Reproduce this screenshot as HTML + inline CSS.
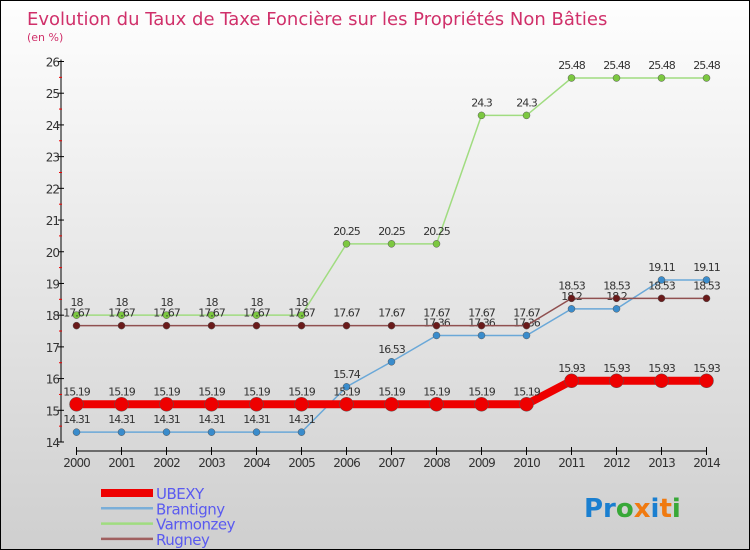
<!DOCTYPE html>
<html><head><meta charset="utf-8"><style>
body{margin:0;}
#wrap{position:relative;width:750px;height:550px;overflow:hidden;background:linear-gradient(#fefefe,#cfcfcf);box-sizing:border-box;border:1px solid #000;font-family:"DejaVu Sans","Liberation Sans",sans-serif;}
svg text{font-family:"DejaVu Sans","Liberation Sans",sans-serif;}
</style></head><body>
<div id="wrap">
<svg id="chart" width="750" height="550">
<text x="26" y="24" font-size="18" fill="#d0306a">Evolution du Taux de Taxe Foncière sur les Propriétés Non Bâties</text>
<text x="26" y="40" font-size="11" fill="#d0306a">(en %)</text>
<text x="583" y="516" font-size="26" font-weight="bold"><tspan fill="#1a7fd0">Pr</tspan><tspan fill="#38a838">o</tspan><tspan fill="#f07a10">x</tspan><tspan fill="#1a7fd0">i</tspan><tspan fill="#f07a10">t</tspan><tspan fill="#38a838">i</tspan></text>
</svg>
</div>
<script>
const years=[2000,2001,2002,2003,2004,2005,2006,2007,2008,2009,2010,2011,2012,2013,2014];
const ubexy=[15.19,15.19,15.19,15.19,15.19,15.19,15.19,15.19,15.19,15.19,15.19,15.93,15.93,15.93,15.93];
const brantigny=[14.31,14.31,14.31,14.31,14.31,14.31,15.74,16.53,17.36,17.36,17.36,18.2,18.2,19.11,19.11];
const varmonzey=[18,18,18,18,18,18,20.25,20.25,20.25,24.3,24.3,25.48,25.48,25.48,25.48];
const rugney=[17.67,17.67,17.67,17.67,17.67,17.67,17.67,17.67,17.67,17.67,17.67,18.53,18.53,18.53,18.53];
const yTicks=[14,15,16,17,18,19,20,21,22,23,24,25,26];
const svg=document.getElementById('chart');
const NS='http://www.w3.org/2000/svg';
const x0=75.5,dx=45,yTop=60.5,yBot=441,yMin=14,yMax=26;
const X=i=>x0+i*dx;
const Y=v=>yBot-(v-yMin)*(yBot-yTop)/(yMax-yMin);
function mk(t,a){const e=document.createElementNS(NS,t);for(const k in a)e.setAttribute(k,a[k]);svg.appendChild(e);return e;}
// axes
let ax=mk('line',{x1:60,y1:yTop-2,x2:60,y2:yBot,stroke:'#000'});


let xa=mk('line',{x1:X(0),y1:450,x2:X(14),y2:450,stroke:'#000'});


yTicks.forEach(v=>{
 let t=mk('line',{x1:57,y1:Y(v),x2:63,y2:Y(v),stroke:'#000'});
 
 
 if(v<yMax){let h=mk('line',{x1:58,y1:Y(v+0.5),x2:61,y2:Y(v+0.5),stroke:'#e00'});
 
 }
 let l=mk('text',{x:58,y:Y(v)+5,'font-size':12,'text-anchor':'end',fill:'#333','letter-spacing':'-1'});
 l.textContent=v;
 
 
});
years.forEach((yr,i)=>{
 let t=mk('line',{x1:X(i),y1:446,x2:X(i),y2:454,stroke:'#000'});
 
 
 let l=mk('text',{x:X(i),y:466,'font-size':12,'text-anchor':'middle',fill:'#333','letter-spacing':'-1'});
 l.textContent=yr;
 
 
});
function series(vals,color,w,r,name,dot){
 let p=mk('polyline',{points:vals.map((v,i)=>X(i)+','+Y(v)).join(' '),fill:'none',stroke:color,'stroke-width':w});
 
 
 vals.forEach((v,i)=>{
  let c=mk('circle',{cx:X(i),cy:Y(v),r:r,fill:dot,stroke:'#555','stroke-width':0.5});
  
  
  let t=mk('text',{x:X(i),y:Y(v)-9,'font-size':11,'text-anchor':'middle',fill:'#333','letter-spacing':'-1'});
  t.textContent=v;
  
  
 });
}
series(brantigny,'#6aa8d8',1.5,3.5,'brantigny','#3a8ccc');
series(varmonzey,'#a0dc80',1.5,3.5,'varmonzey','#7cc840');
series(rugney,'#905050',1.5,3.5,'rugney','#6a1a1a');
series(ubexy,'#ee0000',8,7,'ubexy','#ee0000');
const legNames=['UBEXY','Brantigny','Varmonzey','Rugney'];
const legCols=['#ee0000','#7aaed8','#a0dc80','#a06060'];
const legW=[8,2.5,2.5,2.5];
legNames.forEach((n,i)=>{
 const y=492+i*15.3;
 let l=mk('line',{x1:100,y1:y,x2:152,y2:y,stroke:legCols[i],'stroke-width':legW[i]});
 
 
 let t=mk('text',{x:155,y:y+6,'font-size':15,fill:'#5a5af0','letter-spacing':'-0.5'});
 t.textContent=n;
 
 
});
</script>
</body></html>
